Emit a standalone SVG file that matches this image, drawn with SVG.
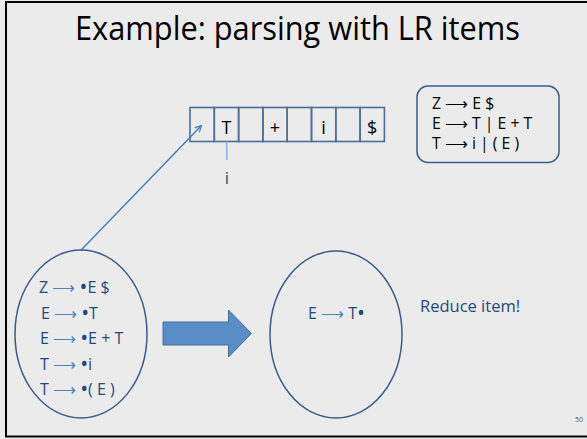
<svg xmlns="http://www.w3.org/2000/svg" width="587" height="439" viewBox="0 0 587 439">
<defs>
<style>
.t{font-family:"Open Sans","Liberation Sans",sans-serif;}
.item{font-size:16px;fill:#1F497D;}
.arr{fill:#4F81BD;}
.b{font-size:21px;}
.cell{fill:none;stroke:#4A6F9A;stroke-width:1.6;}
.tape{font-size:18px;fill:#000;text-anchor:middle;}
.gram{font-size:15.8px;fill:#000;}
.ell{fill:none;stroke:#385D8A;stroke-width:1.5;}
</style>
<marker id="ah" viewBox="0 0 10 10" refX="9" refY="5" markerWidth="8" markerHeight="8" orient="auto" markerUnits="userSpaceOnUse">
<path d="M1,1 L9,5 L1,9" fill="none" stroke="#4A7EBB" stroke-width="1.5"/>
</marker>
</defs>
<rect x="0" y="0" width="587" height="439" fill="#EBEBEB"/>
<rect x="6" y="2" width="585" height="434.5" fill="#EBEBEB" stroke="#000" stroke-width="2"/>
<text class="t" x="297.5" y="39.5" font-size="32" text-anchor="middle" fill="#000" textLength="445" lengthAdjust="spacingAndGlyphs">Example: parsing with LR items</text>

<g id="tape">
<rect class="cell" x="190" y="107.5" width="24.3" height="34"/>
<rect class="cell" x="214.3" y="107.5" width="24.3" height="34"/>
<rect class="cell" x="238.6" y="107.5" width="24.3" height="34"/>
<rect class="cell" x="262.9" y="107.5" width="24.3" height="34"/>
<rect class="cell" x="287.2" y="107.5" width="24.3" height="34"/>
<rect class="cell" x="311.5" y="107.5" width="24.3" height="34"/>
<rect class="cell" x="335.8" y="107.5" width="24.3" height="34"/>
<rect class="cell" x="360.1" y="107.5" width="24.3" height="34"/>
<text class="t tape" x="226.5" y="133.5">T</text>
<text class="t tape" x="275" y="133.5">+</text>
<text class="t tape" x="323.6" y="133.5">i</text>
<text class="t tape" x="372.2" y="133.5">$</text>
</g>

<g id="pointer">
<line x1="226.6" y1="141.5" x2="227" y2="160" stroke="#8DB3E2" stroke-width="1.5"/>
<text class="t" x="227" y="183.5" font-size="17" fill="#1F497D" text-anchor="middle">i</text>
</g>

<g id="grammar">
<rect x="417" y="86" width="142" height="76.5" rx="11" fill="none" stroke="#385D8A" stroke-width="1.5"/>
<text class="t gram" x="432" y="109">Z <tspan>⟶</tspan> E $</text>
<text class="t gram" x="432" y="129">E <tspan>⟶</tspan> T | E + T</text>
<text class="t gram" x="432" y="149">T <tspan>⟶</tspan> i | ( E )</text>
</g>

<g id="connectors">
<line x1="80.7" y1="250.5" x2="201.5" y2="125.5" stroke="#4A7EBB" stroke-width="1.5" marker-end="url(#ah)"/>
</g>

<g id="state1">
<ellipse class="ell" cx="81" cy="334" rx="66" ry="84"/>
<text class="t item" x="39" y="293">Z <tspan class="arr">⟶</tspan> <tspan class="b" dy="1">•</tspan><tspan dy="-1">E $</tspan></text>
<text class="t item" x="41" y="318.5">E <tspan class="arr">⟶</tspan> <tspan class="b" dy="1">•</tspan><tspan dy="-1">T</tspan></text>
<text class="t item" x="40" y="344">E <tspan class="arr">⟶</tspan> <tspan class="b" dy="1">•</tspan><tspan dy="-1">E + T</tspan></text>
<text class="t item" x="40" y="369.5">T <tspan class="arr">⟶</tspan> <tspan class="b" dy="1">•</tspan><tspan dy="-1">i</tspan></text>
<text class="t item" x="40" y="395">T <tspan class="arr">⟶</tspan> <tspan class="b" dy="1">•</tspan><tspan dy="-1">( E )</tspan></text>
</g>

<g id="bigarrow">
<path d="M163,322 L228.5,322 L228.5,310 L251.5,333.5 L228.5,357 L228.5,345 L163,345 Z" fill="#5A8DC6" stroke="#41719C" stroke-width="1"/>
</g>

<g id="state2">
<ellipse class="ell" cx="336" cy="334.5" rx="66" ry="83.5"/>
<text class="t item" x="308" y="319">E <tspan class="arr">⟶</tspan> T<tspan class="b" dy="1">•</tspan></text>
</g>

<text class="t" x="420" y="311.5" font-size="16.5" fill="#1F497D">Reduce item!</text>
<text class="t" x="575" y="422" font-size="7" fill="#595959">50</text>
</svg>
